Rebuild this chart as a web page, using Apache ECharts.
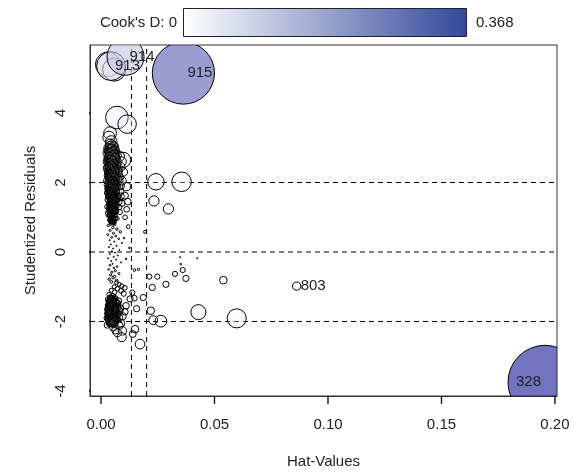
<!DOCTYPE html>
<html>
<head>
<meta charset="utf-8">
<script src="https://cdn.jsdelivr.net/npm/echarts@6/dist/echarts.min.js"></script>
<style>
  html, body { margin: 0; padding: 0; background: #fff; }
  #chart { width: 573px; height: 472px; }
</style>
</head>
<body>
<div id="chart"></div>
<script>
// Influence plot: hat value vs studentized residual, circle area and fill by Cook's distance.
// Each observation: [hat value, studentized residual, Cook's D]

const cookMax = 0.368;
const xTicks = [0, 0.05, 0.1, 0.15, 0.2];
const yTicks = [-4, -2, 0, 2, 4];
const hatCutoffs = [0.0134, 0.0201];      // 2p/n and 3p/n
const residCutoffs = [-2, 0, 2];

const upperBand = [
  [0.0070,3.87,0.0344],[0.0115,3.68,0.0230],[0.0040,3.42,0.0110],[0.0035,3.30,0.0100],
  [0.0045,3.18,0.0090],[0.0050,3.05,0.0080],[0.0038,2.95,0.0070],[0.0097,2.65,0.0160],
  [0.0060,2.45,0.0060],
  [0.0042,3.10,0.0075],[0.0055,3.02,0.0070],[0.0033,2.98,0.0062],[0.0061,2.90,0.0068],
  [0.0047,2.86,0.0058],[0.0039,2.80,0.0055],[0.0068,2.78,0.0066],[0.0052,2.74,0.0056],
  [0.0031,2.70,0.0046],[0.0058,2.66,0.0054],[0.0044,2.62,0.0050],[0.0072,2.58,0.0060],
  [0.0036,2.55,0.0044],[0.0063,2.52,0.0052],[0.0049,2.48,0.0046],[0.0029,2.45,0.0040],
  [0.0056,2.42,0.0045],[0.0041,2.38,0.0042],[0.0075,2.35,0.0055],[0.0034,2.32,0.0038],
  [0.0060,2.29,0.0044],[0.0046,2.26,0.0040],[0.0052,2.22,0.0041],[0.0030,2.20,0.0034],
  [0.0067,2.17,0.0045],[0.0039,2.14,0.0036],[0.0057,2.11,0.0038],[0.0044,2.08,0.0035],
  [0.0079,2.05,0.0046],[0.0033,2.03,0.0031],[0.0062,2.00,0.0037],[0.0048,1.97,0.0033],
  [0.0028,1.94,0.0028],[0.0055,1.92,0.0033],[0.0040,1.89,0.0030],[0.0070,1.86,0.0036],
  [0.0035,1.83,0.0027],[0.0059,1.80,0.0031],[0.0045,1.77,0.0028],[0.0084,1.74,0.0035],
  [0.0031,1.71,0.0024],[0.0051,1.68,0.0026],[0.0066,1.65,0.0028],[0.0038,1.62,0.0023],
  [0.0054,1.59,0.0024],[0.0043,1.56,0.0022],[0.0074,1.53,0.0026],[0.0029,1.50,0.0019],
  [0.0058,1.47,0.0021],[0.0047,1.44,0.0019],[0.0036,1.41,0.0017],[0.0064,1.38,0.0020],
  [0.0050,1.35,0.0017],[0.0041,1.32,0.0015],[0.0080,1.29,0.0019],[0.0033,1.26,0.0013],
  [0.0056,1.23,0.0014],[0.0045,1.20,0.0012],[0.0069,1.17,0.0014],[0.0038,1.14,0.0011],
  [0.0060,1.11,0.0011],[0.0048,1.08,0.0010],[0.0030,1.05,0.0008],[0.0053,1.02,0.0009],
  [0.0042,0.99,0.0008],[0.0072,0.96,0.0009],[0.0035,0.93,0.0006],[0.0057,0.90,0.0007],
  [0.0037,2.92,0.0060],[0.0050,2.70,0.0052],[0.0065,2.40,0.0050],[0.0026,2.60,0.0038],
  [0.0044,2.15,0.0037],[0.0070,1.98,0.0040],[0.0032,1.85,0.0026],[0.0053,1.75,0.0030],
  [0.0088,1.60,0.0032],[0.0041,1.50,0.0022],[0.0062,1.28,0.0017],[0.0027,1.12,0.0009],
  [0.0046,2.55,0.0048],[0.0058,2.05,0.0038],[0.0036,2.28,0.0036],[0.0077,2.20,0.0050],
  [0.0049,1.62,0.0025],[0.0034,1.38,0.0016],[0.0066,1.52,0.0024],[0.0055,2.85,0.0064],
  [0.0112,1.88,0.0045],[0.0105,1.62,0.0035],[0.0118,1.45,0.0030],[0.0113,1.23,0.0022],
  [0.0106,1.00,0.0015],[0.0120,0.73,0.0010],[0.0098,2.30,0.0050],[0.0092,1.40,0.0025]
];

const upperCore = [
  [0.0040,3.05,0.0060],[0.0048,2.97,0.0058],[0.0058,2.93,0.0062],[0.0035,2.88,0.0052],
  [0.0044,2.83,0.0053],[0.0062,2.81,0.0060],[0.0050,2.77,0.0053],[0.0038,2.73,0.0048],
  [0.0055,2.69,0.0052],[0.0046,2.65,0.0049],[0.0065,2.63,0.0056],[0.0033,2.59,0.0042],
  [0.0052,2.57,0.0048],[0.0041,2.51,0.0044],[0.0060,2.49,0.0050],[0.0048,2.44,0.0044],
  [0.0036,2.41,0.0040],[0.0070,2.39,0.0052],[0.0054,2.36,0.0044],[0.0043,2.33,0.0040],
  [0.0031,2.30,0.0035],[0.0063,2.27,0.0046],[0.0050,2.24,0.0040],[0.0040,2.21,0.0037],
  [0.0057,2.18,0.0041],[0.0035,2.16,0.0034],[0.0047,2.12,0.0036],[0.0072,2.10,0.0045],
  [0.0041,2.06,0.0034],[0.0055,2.04,0.0037],[0.0032,2.01,0.0030],[0.0065,1.99,0.0039],
  [0.0045,1.95,0.0033],[0.0052,1.91,0.0033],[0.0038,1.88,0.0029],[0.0062,1.87,0.0034],
  [0.0047,1.84,0.0030],[0.0030,1.81,0.0025],[0.0056,1.79,0.0030],[0.0042,1.76,0.0027],
  [0.0067,1.73,0.0031],[0.0036,1.69,0.0024],[0.0053,1.67,0.0027],[0.0044,1.64,0.0025],
  [0.0060,1.61,0.0027],[0.0032,1.58,0.0021],[0.0048,1.55,0.0023],[0.0070,1.51,0.0025],
  [0.0039,1.48,0.0020],[0.0055,1.46,0.0021],[0.0044,1.42,0.0019],[0.0061,1.40,0.0020],
  [0.0035,1.37,0.0016],[0.0051,1.33,0.0017],[0.0068,1.31,0.0019],[0.0040,1.27,0.0015],
  [0.0057,1.25,0.0016],[0.0047,1.21,0.0013],[0.0032,1.18,0.0011],[0.0063,1.16,0.0014],
  [0.0050,1.13,0.0012],[0.0041,1.09,0.0010],[0.0059,1.06,0.0010],[0.0036,1.03,0.0008],
  [0.0049,1.00,0.0008],[0.0066,0.97,0.0009],[0.0044,0.94,0.0007],[0.0053,0.91,0.0007],
  [0.0039,0.88,0.0006],[0.0061,0.86,0.0006],
  [0.0027,2.85,0.0045],[0.0026,2.40,0.0035],[0.0025,2.05,0.0028],[0.0027,1.70,0.0021],
  [0.0026,1.30,0.0013],[0.0082,2.75,0.0065],[0.0085,2.45,0.0058],[0.0081,2.15,0.0048],
  [0.0086,1.90,0.0042],[0.0079,1.45,0.0027],[0.0083,1.15,0.0018],[0.0090,2.60,0.0065],
  [0.0092,2.05,0.0052],
  [0.0043,2.96,0.0050],[0.0051,2.89,0.0052],[0.0036,2.84,0.0045],[0.0059,2.79,0.0052],
  [0.0045,2.76,0.0047],[0.0032,2.72,0.0040],[0.0064,2.70,0.0054],[0.0049,2.64,0.0045],
  [0.0039,2.61,0.0041],[0.0057,2.56,0.0046],[0.0044,2.53,0.0042],[0.0068,2.50,0.0050],
  [0.0034,2.47,0.0036],[0.0053,2.43,0.0042],[0.0046,2.39,0.0039],[0.0061,2.37,0.0044],
  [0.0038,2.34,0.0035],[0.0050,2.31,0.0038],[0.0073,2.28,0.0047],[0.0042,2.25,0.0035],
  [0.0056,2.23,0.0039],[0.0033,2.19,0.0031],[0.0047,2.16,0.0034],[0.0064,2.13,0.0040],
  [0.0039,2.10,0.0031],[0.0053,2.07,0.0034],[0.0045,2.02,0.0031],[0.0060,1.96,0.0034],
  [0.0036,1.93,0.0027],[0.0050,1.90,0.0030],[0.0042,1.86,0.0027],[0.0066,1.83,0.0033],
  [0.0033,1.78,0.0023],[0.0048,1.74,0.0026],[0.0058,1.71,0.0028],[0.0040,1.67,0.0023],
  [0.0052,1.63,0.0024],[0.0072,1.60,0.0029],[0.0037,1.57,0.0020],[0.0046,1.53,0.0021],
  [0.0060,1.49,0.0023],[0.0042,1.45,0.0019],[0.0053,1.41,0.0019],[0.0034,1.36,0.0015],
  [0.0065,1.34,0.0019],[0.0046,1.29,0.0015],[0.0055,1.26,0.0015],[0.0038,1.22,0.0012],
  [0.0061,1.19,0.0014],[0.0044,1.15,0.0011],[0.0052,1.11,0.0011],[0.0035,1.07,0.0009],
  [0.0064,1.04,0.0011],[0.0047,1.01,0.0009],[0.0056,0.98,0.0009],[0.0041,0.95,0.0008],
  [0.0050,0.92,0.0007],[0.0058,0.88,0.0007],[0.0043,0.84,0.0006],[0.0054,0.81,0.0005],
  [0.0046,2.99,0.0052],[0.0053,2.91,0.0050],[0.0041,2.87,0.0046],[0.0057,2.82,0.0050],
  [0.0048,2.79,0.0047],[0.0037,2.76,0.0041],[0.0061,2.73,0.0050],[0.0044,2.68,0.0044],
  [0.0052,2.63,0.0045],[0.0040,2.58,0.0040],[0.0058,2.54,0.0044],[0.0047,2.50,0.0041],
  [0.0036,2.46,0.0036],[0.0055,2.45,0.0042],[0.0043,2.40,0.0038],[0.0062,2.35,0.0043],
  [0.0049,2.32,0.0038],[0.0039,2.27,0.0034],[0.0054,2.25,0.0037],[0.0045,2.20,0.0034],
  [0.0060,2.17,0.0038],[0.0037,2.13,0.0030],[0.0051,2.09,0.0032],[0.0043,2.05,0.0030],
  [0.0058,2.01,0.0033],[0.0048,1.98,0.0030],[0.0039,1.94,0.0027],[0.0054,1.91,0.0029],
  [0.0044,1.87,0.0027],[0.0061,1.85,0.0030],[0.0050,1.81,0.0027],[0.0038,1.78,0.0024],
  [0.0055,1.76,0.0027],[0.0046,1.72,0.0024],[0.0041,1.68,0.0022],[0.0057,1.66,0.0024],
  [0.0049,1.63,0.0022],[0.0036,1.60,0.0019],[0.0053,1.57,0.0021],[0.0045,1.53,0.0020],
  [0.0062,1.50,0.0022],[0.0040,1.47,0.0018],[0.0050,1.43,0.0018],[0.0058,1.40,0.0019],
  [0.0043,1.36,0.0016],[0.0054,1.32,0.0016],[0.0038,1.29,0.0014],[0.0048,1.26,0.0014],
  [0.0060,1.22,0.0015],[0.0042,1.18,0.0012],[0.0055,1.14,0.0012],[0.0046,1.10,0.0011],
  [0.0039,1.06,0.0009],[0.0052,1.03,0.0009],[0.0045,0.97,0.0008],[0.0059,0.94,0.0008],
  [0.0038,0.90,0.0006],[0.0049,0.87,0.0006],[0.0056,0.83,0.0005],[0.0041,0.80,0.0005]
];

const middleBand = [
  [0.0045,0.85,0.0005],[0.0060,0.80,0.0005],[0.0032,0.76,0.0004],[0.0052,0.70,0.0004],
  [0.0070,0.66,0.0004],[0.0040,0.62,0.0003],[0.0085,0.58,0.0004],[0.0055,0.54,0.0003],
  [0.0030,0.50,0.0002],[0.0065,0.46,0.0002],[0.0047,0.42,0.0002],[0.0078,0.38,0.0002],
  [0.0038,0.34,0.0001],[0.0058,0.30,0.0001],[0.0092,0.26,0.0001],[0.0043,0.22,0.0001],
  [0.0068,0.18,0.0001],[0.0035,0.14,0.0001],[0.0053,0.10,0.0001],[0.0081,0.06,0.0001],
  [0.0048,0.02,0.0001],[0.0062,-0.02,0.0001],[0.0039,-0.06,0.0001],[0.0074,-0.10,0.0001],
  [0.0056,-0.14,0.0001],[0.0031,-0.18,0.0001],[0.0066,-0.22,0.0001],[0.0045,-0.26,0.0001],
  [0.0088,-0.30,0.0001],[0.0051,-0.34,0.0001],[0.0040,-0.38,0.0002],[0.0071,-0.42,0.0002],
  [0.0057,-0.46,0.0002],[0.0034,-0.50,0.0002],[0.0063,-0.54,0.0003],[0.0048,-0.58,0.0003],
  [0.0079,-0.62,0.0003],[0.0042,-0.66,0.0003],[0.0060,-0.70,0.0004],[0.0053,-0.74,0.0004],
  [0.0036,-0.78,0.0004],[0.0069,-0.82,0.0005],[0.0046,-0.86,0.0005],[0.0101,0.40,0.0002],
  [0.0110,-0.20,0.0002],[0.0125,0.12,0.0002],[0.0194,0.58,0.0006],
  [0.0348,-0.15,0.0001],[0.0424,-0.18,0.0001],[0.0352,-0.35,0.0002],
  [0.0147,-0.52,0.0005],[0.0165,-0.50,0.0004]
];

const lowerBand = [
  [0.0068,-0.88,0.0010],[0.0080,-0.93,0.0011],[0.0092,-0.98,0.0013],[0.0058,-1.00,0.0011],
  [0.0105,-1.03,0.0015],[0.0072,-1.06,0.0013],[0.0045,-1.10,0.0011],[0.0088,-1.12,0.0015],
  [0.0060,-1.16,0.0014],[0.0100,-1.20,0.0018],[0.0035,-1.22,0.0012],[0.0052,-1.26,0.0015],
  [0.0041,-1.30,0.0016],[0.0063,-1.33,0.0020],[0.0029,-1.36,0.0014],[0.0050,-1.39,0.0019],
  [0.0078,-1.41,0.0025],[0.0036,-1.44,0.0018],[0.0057,-1.47,0.0022],[0.0044,-1.50,0.0020],
  [0.0068,-1.52,0.0026],[0.0031,-1.55,0.0018],[0.0053,-1.58,0.0023],[0.0040,-1.60,0.0021],
  [0.0086,-1.62,0.0032],[0.0047,-1.65,0.0024],[0.0061,-1.67,0.0028],[0.0034,-1.70,0.0021],
  [0.0055,-1.72,0.0027],[0.0043,-1.75,0.0025],[0.0073,-1.77,0.0032],[0.0038,-1.80,0.0025],
  [0.0050,-1.82,0.0028],[0.0065,-1.84,0.0032],[0.0030,-1.86,0.0023],[0.0046,-1.88,0.0028],
  [0.0058,-1.90,0.0031],[0.0041,-1.92,0.0028],[0.0070,-1.94,0.0036],[0.0035,-1.96,0.0026],
  [0.0053,-1.98,0.0032],[0.0044,-2.00,0.0030],[0.0062,-2.03,0.0035],[0.0038,-2.06,0.0029],
  [0.0049,-1.70,0.0024],[0.0059,-1.55,0.0023],[0.0037,-1.62,0.0020],[0.0066,-1.95,0.0034],
  [0.0045,-1.43,0.0018],[0.0052,-1.85,0.0029],[0.0033,-1.78,0.0022],[0.0075,-1.60,0.0029],
  [0.0042,-2.02,0.0030],[0.0057,-1.35,0.0019],[0.0048,-1.95,0.0030],
  [0.0088,-2.05,0.0040],[0.0095,-1.85,0.0036],[0.0080,-2.12,0.0040],[0.0054,-2.17,0.0036],
  [0.0072,-2.32,0.0046],[0.0094,-2.27,0.0050],[0.0091,-2.45,0.0056],[0.0028,-2.10,0.0028],
  [0.0105,-1.72,0.0030],[0.0128,-1.35,0.0026],[0.0110,-1.55,0.0030],[0.0064,-2.25,0.0040]
];

const lowerCore = [
  [0.0043,-1.32,0.0017],[0.0055,-1.37,0.0019],[0.0035,-1.40,0.0016],[0.0066,-1.43,0.0023],
  [0.0048,-1.46,0.0020],[0.0039,-1.49,0.0019],[0.0060,-1.51,0.0023],[0.0030,-1.53,0.0017],
  [0.0051,-1.56,0.0022],[0.0071,-1.58,0.0028],[0.0042,-1.61,0.0022],[0.0057,-1.64,0.0025],
  [0.0034,-1.66,0.0020],[0.0047,-1.68,0.0024],[0.0064,-1.71,0.0029],[0.0039,-1.73,0.0023],
  [0.0052,-1.76,0.0027],[0.0031,-1.79,0.0022],[0.0045,-1.81,0.0026],[0.0060,-1.83,0.0030],
  [0.0037,-1.87,0.0025],[0.0054,-1.89,0.0030],[0.0043,-1.91,0.0028],[0.0068,-1.93,0.0034],
  [0.0033,-1.94,0.0025],[0.0049,-1.97,0.0030],[0.0059,-1.99,0.0033],[0.0040,-2.01,0.0029],
  [0.0051,-2.04,0.0031],[0.0046,-1.59,0.0023],[0.0038,-1.45,0.0018],[0.0062,-1.78,0.0030],
  [0.0035,-1.85,0.0024],[0.0079,-1.88,0.0036],[0.0027,-1.65,0.0019],[0.0026,-1.90,0.0023],
  [0.0082,-1.70,0.0031],[0.0074,-1.48,0.0025],[0.0056,-2.08,0.0034],[0.0044,-1.38,0.0017],
  [0.0047,-1.31,0.0016],[0.0038,-1.34,0.0015],[0.0060,-1.36,0.0019],[0.0051,-1.41,0.0019],
  [0.0033,-1.43,0.0016],[0.0069,-1.46,0.0024],[0.0044,-1.48,0.0019],[0.0056,-1.50,0.0021],
  [0.0036,-1.52,0.0018],[0.0049,-1.54,0.0021],[0.0064,-1.57,0.0025],[0.0041,-1.58,0.0020],
  [0.0053,-1.61,0.0023],[0.0030,-1.63,0.0019],[0.0045,-1.66,0.0023],[0.0060,-1.69,0.0027],
  [0.0037,-1.71,0.0022],[0.0050,-1.74,0.0026],[0.0066,-1.76,0.0030],[0.0042,-1.78,0.0024],
  [0.0056,-1.80,0.0028],[0.0034,-1.82,0.0023],[0.0048,-1.84,0.0027],[0.0061,-1.87,0.0031],
  [0.0040,-1.89,0.0026],[0.0052,-1.92,0.0030],[0.0031,-1.93,0.0024],[0.0045,-1.96,0.0029],
  [0.0057,-2.00,0.0032],[0.0037,-2.03,0.0027],[0.0048,-2.06,0.0030],[0.0062,-1.62,0.0026],
  [0.0039,-1.57,0.0020],[0.0054,-1.45,0.0020],[0.0071,-1.81,0.0032],[0.0028,-1.76,0.0021],
  [0.0045,-1.34,0.0016],[0.0052,-1.39,0.0018],[0.0040,-1.42,0.0017],[0.0058,-1.44,0.0020],
  [0.0047,-1.49,0.0019],[0.0035,-1.51,0.0017],[0.0054,-1.53,0.0021],[0.0043,-1.56,0.0020],
  [0.0061,-1.59,0.0024],[0.0038,-1.61,0.0019],[0.0050,-1.63,0.0022],[0.0044,-1.67,0.0022],
  [0.0057,-1.69,0.0025],[0.0036,-1.72,0.0021],[0.0048,-1.74,0.0024],[0.0059,-1.76,0.0027],
  [0.0041,-1.79,0.0023],[0.0053,-1.81,0.0026],[0.0046,-1.84,0.0025],[0.0038,-1.86,0.0024],
  [0.0057,-1.88,0.0029],[0.0044,-1.90,0.0026],[0.0050,-1.94,0.0028],[0.0062,-1.96,0.0032],
  [0.0040,-1.98,0.0027],[0.0053,-2.01,0.0030],[0.0046,-2.04,0.0029],[0.0034,-1.75,0.0021],
  [0.0065,-1.65,0.0026],[0.0042,-1.53,0.0019]
];

const spreadPoints = [
  [0.0242,2.02,0.0182],[0.0355,2.02,0.0256],[0.0233,1.47,0.0071],[0.0297,1.24,0.0071],
  [0.0360,-0.52,0.0018],[0.0326,-0.63,0.0018],[0.0374,-0.76,0.0026],[0.0248,-0.71,0.0018],
  [0.0213,-0.71,0.0018],[0.0286,-0.93,0.0026],[0.0226,-1.02,0.0026],[0.0539,-0.81,0.0039],
  [0.0186,-1.31,0.0026],[0.0147,-1.33,0.0022],[0.0138,-1.17,0.0018],[0.0157,-1.63,0.0026],
  [0.0219,-1.69,0.0039],[0.0429,-1.73,0.0151],[0.0598,-1.91,0.0245],[0.0264,-1.99,0.0092],
  [0.0230,-1.96,0.0052],[0.0150,-2.22,0.0039],[0.0140,-2.36,0.0031],[0.0172,-2.65,0.0063],
  [0.0030,5.40,0.0410],[0.0058,5.25,0.0360]
];

// Observations with id labels: [hat, residual, Cook's D, id, label side]
const flagged = [
  [0.0862,-0.98,0.0045,'803','right'],
  [0.0044,5.35,0.0557,'913','right'],
  [0.0108,5.62,0.0920,'914','right'],
  [0.0363,5.15,0.2600,'915','right'],
  [0.1956,-3.75,0.3680,'328','left']
];

const FONT = '"Liberation Sans", Arial, Helvetica, sans-serif';
const maxRadius = 37;
const lowColor = [255, 255, 255];
const highColor = [22, 22, 150];
const barHigh = '#34489c';

// nearly-white fills are kept thin so overlapping outlines build up in dense regions
function cookColor(d) {
  const t = Math.max(0, Math.min(1, d / cookMax));
  const c = lowColor.map((v, i) => Math.round(v + (highColor[i] - v) * t));
  const a = Math.min(0.6, 0.03 + 4 * t);
  return 'rgba(' + c.join(',') + ',' + a.toFixed(3) + ')';
}

const points = []
  .concat(middleBand, upperBand, upperCore, lowerBand, lowerCore, spreadPoints)
  .map(p => [p[0], p[1], p[2]])
  .concat(flagged.map(f => [f[0], f[1], f[2]]));

function renderCircle(params, api) {
  const pt = api.coord([api.value(0), api.value(1)]);
  const d = api.value(2);
  const r = Math.max(maxRadius * Math.sqrt(d / cookMax), 0.5);
  return {
    type: 'circle',
    shape: { cx: pt[0], cy: pt[1], r: r },
    style: { fill: cookColor(d), stroke: '#000', lineWidth: 1 }
  };
}

function renderLabel(params, api) {
  const pt = api.coord([api.value(0), api.value(1)]);
  const item = flagged[params.dataIndex];
  const right = item[4] === 'right';
  return {
    type: 'text',
    x: pt[0] + (right ? 4 : -4),
    y: pt[1],
    style: {
      text: item[3], font: '15px ' + FONT, fill: '#222',
      align: right ? 'left' : 'right', verticalAlign: 'middle',
      textAlign: right ? 'left' : 'right', textVerticalAlign: 'middle'
    }
  };
}

const xMin = -0.00485, xMax = 0.2009, yMin = -4.144, yMax = 5.957;
const gridBox = { left: 90, right: 16, top: 45, bottom: 76 };
const plotW = 573 - gridBox.left - gridBox.right;
const plotH = 472 - gridBox.top - gridBox.bottom;
const tickPx = 8;
// tick length expressed in axis units
const xTickLen = (yMax - yMin) * tickPx / plotH;
const yTickLen = (xMax - xMin) * tickPx / plotW;

const dashed = { color: '#000', width: 1, type: [5, 4] };
const segment = (data, style, z) => ({
  type: 'line', data: data, symbol: 'none', silent: true, z: z, clip: false,
  lineStyle: style, animation: false
});
const cutoffSeries = hatCutoffs.map(h => segment([[h, yMin], [h, yMax]], dashed, 1))
  .concat(residCutoffs.map(v => segment([[xMin, v], [xMax, v]], dashed, 1)));
const tickStyle = { color: '#000', width: 1.3, type: 'solid' };
const tickSeries = xTicks.map(v => segment([[v, yMin], [v, yMin - xTickLen]], tickStyle, 5))
  .concat(yTicks.map(v => segment([[xMin, v], [xMin - yTickLen, v]], tickStyle, 5)));

const chart = echarts.init(document.getElementById('chart'), null, { renderer: 'canvas' });
chart.setOption({
  animation: false,
  backgroundColor: '#fff',
  textStyle: { fontFamily: FONT },
  grid: Object.assign({}, gridBox, {
    outerBoundsMode: 'none', containLabel: false,
    show: true, borderColor: '#333', borderWidth: 1, backgroundColor: 'transparent'
  }),
  xAxis: {
    type: 'value', min: xMin, max: xMax,
    name: 'Hat-Values', nameLocation: 'middle', nameGap: 58,
    nameTextStyle: { fontSize: 15, color: '#222', fontFamily: FONT },
    axisLine: { show: true, onZero: false, lineStyle: { color: '#333', width: 1 } },
    axisTick: { show: false },
    axisLabel: { customValues: xTicks, formatter: v => v.toFixed(2), margin: 21, fontSize: 15, color: '#222', fontFamily: FONT },
    splitLine: { show: false }
  },
  yAxis: {
    type: 'value', min: yMin, max: yMax,
    name: 'Studentized Residuals', nameLocation: 'middle', nameGap: 52,
    nameTextStyle: { fontSize: 15, color: '#222', fontFamily: FONT },
    axisLine: { show: true, onZero: false, lineStyle: { color: '#333', width: 1 } },
    axisTick: { show: false },
    axisLabel: { customValues: yTicks, rotate: 90, margin: 22, fontSize: 15, color: '#222', fontFamily: FONT },
    splitLine: { show: false }
  },
  series: cutoffSeries.concat(tickSeries, [
    {
      type: 'custom',
      renderItem: renderCircle,
      data: points,
      encode: { x: 0, y: 1 },
      clip: true,
      z: 2,
      silent: true
    },
    {
      type: 'custom',
      renderItem: renderLabel,
      data: flagged.map(f => [f[0], f[1]]),
      encode: { x: 0, y: 1 },
      clip: true,
      z: 3,
      silent: true
    }
  ]),
  graphic: [
    {
      type: 'rect',
      shape: { x: 183.5, y: 8.5, width: 283, height: 28 },
      style: {
        fill: new echarts.graphic.LinearGradient(0, 0, 1, 0, [
          { offset: 0, color: '#ffffff' }, { offset: 1, color: barHigh }
        ]),
        stroke: '#222', lineWidth: 1
      }
    },
    {
      type: 'text', x: 177, y: 23,
      style: { text: "Cook's D: 0", font: '15px ' + FONT, fill: '#222', align: 'right', verticalAlign: 'middle', textAlign: 'right', textVerticalAlign: 'middle' }
    },
    {
      type: 'text', x: 476, y: 23,
      style: { text: cookMax.toFixed(3), font: '15px ' + FONT, fill: '#222', align: 'left', verticalAlign: 'middle', textAlign: 'left', textVerticalAlign: 'middle' }
    }
  ]
});
</script>
</body>
</html>
